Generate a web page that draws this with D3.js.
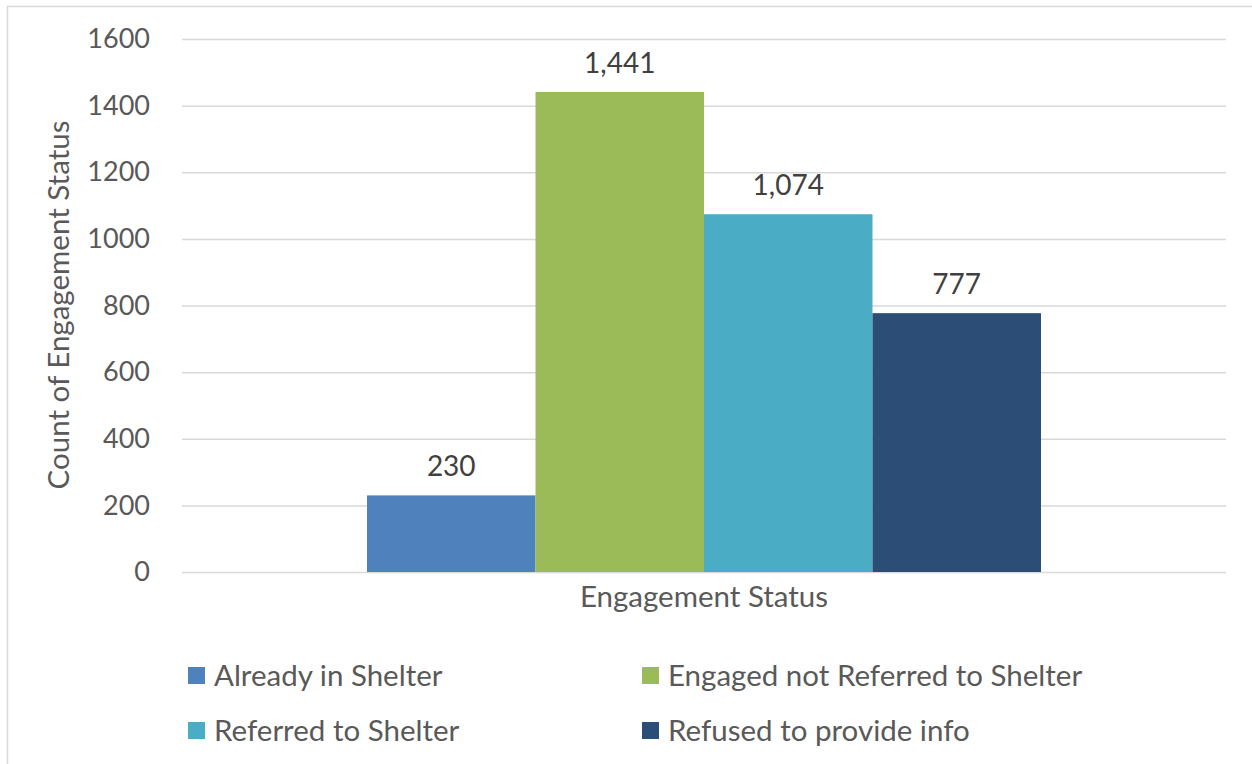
<!DOCTYPE html>
<html>
<head>
<meta charset="utf-8">
<script src="https://cdn.jsdelivr.net/npm/d3@7"></script>
<style>
  body { margin: 0; background: #fff; }
  text { font-family: Lato, "Open Sans", sans-serif; }
</style>
</head>
<body>
<div id="chart"></div>
<script>
// data
var categories = ["Engagement Status"];
var seriesNames = ["Already in Shelter", "Engaged not Referred to Shelter", "Referred to Shelter", "Refused to provide info"];
var seriesValues = [230, 1441, 1074, 777];
var yTicks = [0, 200, 400, 600, 800, 1000, 1200, 1400, 1600];
var colors = ["#4F81BD", "#9BBB59", "#4BACC6", "#2C4D75"];

var W = 1252, H = 764;
var margin = { top: 39, right: 26, bottom: 192, left: 182 },
    width = W - margin.left - margin.right,
    height = H - margin.top - margin.bottom;

var svg = d3.select("#chart")
    .append("svg")
    .attr("width", W)
    .attr("height", H);

// chart border
svg.append("rect")
    .attr("x", 7.5).attr("y", 6.5)
    .attr("width", W + 10).attr("height", H + 10)
    .attr("fill", "none")
    .attr("stroke", "#d9d9d9")
    .attr("stroke-width", 1.5);

var g = svg.append("g")
    .attr("transform", "translate(" + margin.left + "," + margin.top + ")");

// scales
var y = d3.scaleLinear().domain([0, 1600]).range([height, 0]);
var x0 = d3.scaleBand().domain(categories).range([0, width]).paddingOuter(0.2745).paddingInner(0);
var x1 = d3.scaleBand().domain(seriesNames).range([0, x0.bandwidth()]).padding(0);

// gridlines + y labels
var yAxis = g.append("g")
    .call(d3.axisLeft(y).tickValues(yTicks).tickSize(-width).tickPadding(32).tickFormat(d3.format("d")));
yAxis.select(".domain").remove();
yAxis.selectAll(".tick line").attr("stroke", "#d9d9d9").attr("stroke-width", 1.5);
yAxis.selectAll(".tick text")
    .attr("fill", "#595959")
    .style("font-size", "27px");

// bars
var groups = g.selectAll(".grp")
    .data(categories)
    .enter().append("g")
    .attr("transform", function (d) { return "translate(" + x0(d) + ",0)"; });

groups.selectAll("rect")
    .data(seriesNames.map(function (s, i) { return { name: s, value: seriesValues[i], color: colors[i] }; }))
    .enter().append("rect")
    .attr("x", function (d) { return x1(d.name); })
    .attr("y", function (d) { return y(d.value); })
    .attr("width", x1.bandwidth())
    .attr("height", function (d) { return height - y(d.value); })
    .attr("fill", function (d) { return d.color; });

// value labels
groups.selectAll(".lbl")
    .data(seriesNames.map(function (s, i) { return { name: s, value: seriesValues[i] }; }))
    .enter().append("text")
    .attr("x", function (d) { return x1(d.name) + x1.bandwidth() / 2; })
    .attr("y", function (d) { return y(d.value) - 19; })
    .attr("text-anchor", "middle")
    .attr("fill", "#404040")
    .style("font-size", "28px")
    .text(function (d) { return d3.format(",")(d.value); });

// x category label
g.append("text")
    .attr("x", x0(categories[0]) + x0.bandwidth() / 2)
    .attr("y", height + 35)
    .attr("text-anchor", "middle")
    .attr("fill", "#595959")
    .style("font-size", "29.5px")
    .text(categories[0]);

// y axis title
svg.append("text")
    .attr("transform", "translate(69,305) rotate(-90)")
    .attr("text-anchor", "middle")
    .attr("fill", "#595959")
    .style("font-size", "29.5px")
    .text("Count of Engagement Status");

// legend
var legendX = [188, 642], legendY = [676, 731];
var legend = svg.selectAll(".legend")
    .data(seriesNames)
    .enter().append("g")
    .attr("transform", function (d, i) {
        return "translate(" + legendX[i % 2] + "," + legendY[Math.floor(i / 2)] + ")";
    });
legend.append("rect")
    .attr("x", 0).attr("y", -9)
    .attr("width", 17).attr("height", 17)
    .attr("fill", function (d, i) { return colors[i]; });
legend.append("text")
    .attr("x", 26).attr("y", 10)
    .attr("fill", "#595959")
    .style("font-size", "29.5px")
    .text(function (d) { return d; });
</script>
</body>
</html>
